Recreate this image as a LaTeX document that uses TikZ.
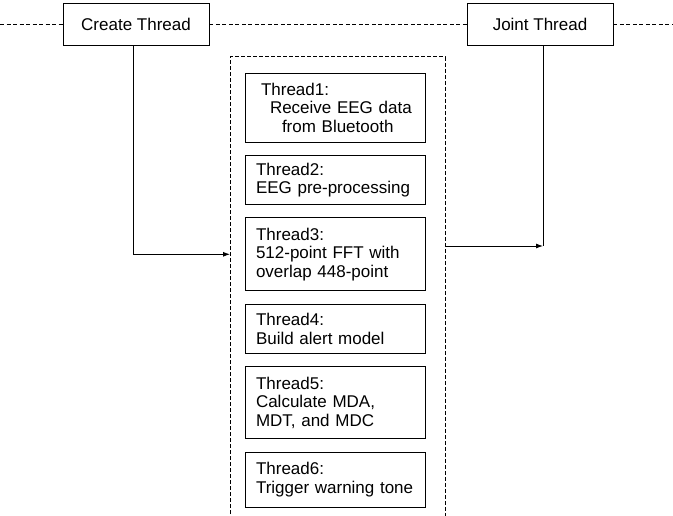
\documentclass[tikz,border=0pt]{standalone}
\usepackage{fontspec}
\setmainfont{Liberation Sans}
\usetikzlibrary{positioning,arrows.meta}

\tikzset{
  thread/.style={draw, line width=0.9pt, minimum width=146pt, minimum height=42pt, font=\fontsize{17}{19}\selectfont},
  task/.style={draw, line width=0.9pt, text width=158pt, inner xsep=11pt, align=left, font=\fontsize{17}{18.5}\selectfont},
  timeline/.style={dash pattern=on 4pt off 2.5pt, line width=0.7pt},
  pool/.style={dash pattern=on 4pt off 2pt, line width=1pt},
  conn/.style={line width=0.9pt},
  flow/.style={conn, -{Latex[length=7pt,width=5pt]}}
}

\begin{document}
\begin{tikzpicture}[x=1pt, y=-1pt, node distance=12.5pt]
        \useasboundingbox (0,0) rectangle (673,516);

        % Main threads
        \node[thread] (create) at (136,24) {Create Thread};
        \node[thread] (joint) at (540,24) {Joint Thread};

        % Worker threads
        \node[task, minimum height=69pt] (t1) at (335,107.5)
            {\hspace*{5pt}Thread1:\\\hspace*{14pt}Receive EEG data\\\hspace*{26pt}from Bluetooth};
        \node[task, minimum height=49pt, below=of t1] (t2) {Thread2:\\EEG pre-processing};
        \node[task, minimum height=73pt, below=of t2] (t3) {Thread3:\\512-point FFT with\\overlap 448-point};
        \node[task, minimum height=49pt, below=of t3] (t4) {Thread4:\\Build alert model};
        \node[task, minimum height=72pt, below=of t4] (t5) {Thread5:\\Calculate MDA,\\MDT, and MDC};
        \node[task, minimum height=55pt, below=of t5] (t6) {Thread6:\\Trigger warning tone};

        % Thread pool frame
        \coordinate (poolnw) at (230,57);
        \coordinate (poolne) at (445,57);
        \coordinate (poolsw) at (230,520);
        \coordinate (poolse) at (445,520);
        \draw[pool] (poolsw) -- (poolnw) -- (poolne) -- (poolse);

        % Main timeline
        \coordinate (tl) at (0,24);
        \coordinate (tr) at (673,24);
        \draw[timeline] (tl) -- (create.west);
        \draw[timeline] (create.east) -- (joint.west);
        \draw[timeline] (joint.east) -- (tr);

        % Connectors
        \coordinate (jt) at (543,246);
        \draw[flow] ([xshift=-3pt]create.south) |- (t3.west -| poolnw);
        \draw[flow] (jt -| poolne) -- (jt);
        \draw[conn] (joint.south -| jt) -- (jt);

    \end{tikzpicture}
\end{document}
